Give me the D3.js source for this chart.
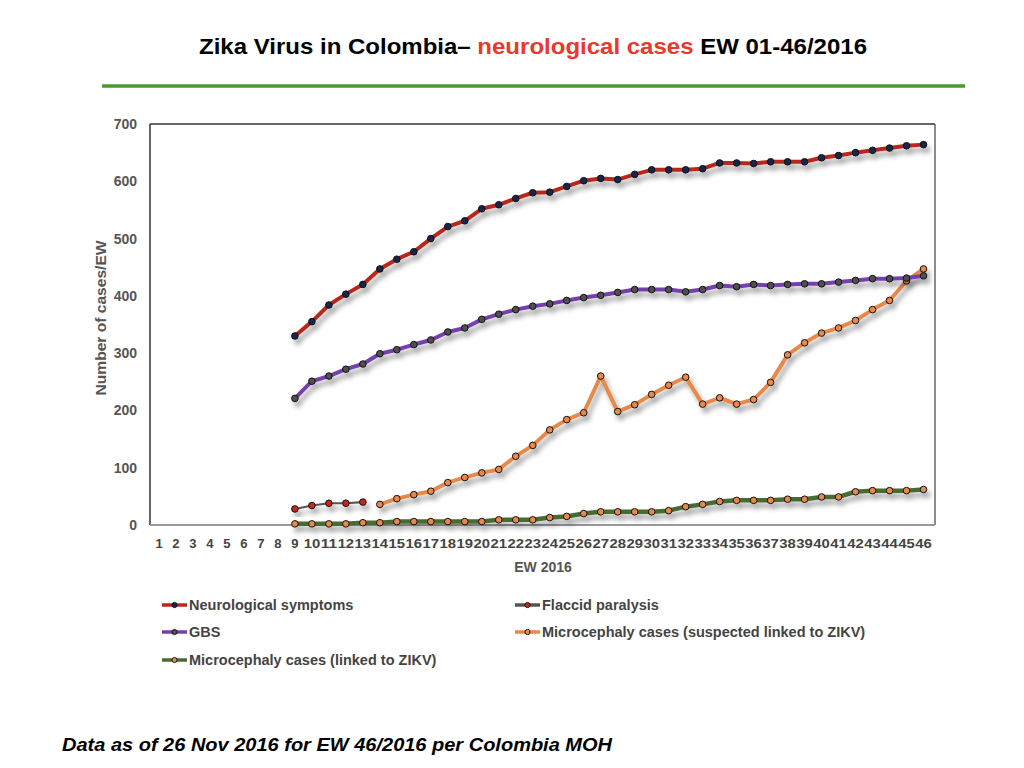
<!DOCTYPE html>
<html>
<head>
<meta charset="utf-8">
<script src="https://cdn.jsdelivr.net/npm/d3@7"></script>
<style>
  html, body { margin: 0; padding: 0; background: #fff; }
  svg { display: block; }
</style>
</head>
<body>
<script>
// ---- data ----
const weeks = d3.range(1, 47);
const yTicks = [0, 100, 200, 300, 400, 500, 600, 700];

// values per week, index 0 = EW 1 ; null = no value
const neurological = [null,null,null,null,null,null,null,null,
  330,355,384,403,420,447,464,477,500,521,531,552,559,570,580,581,591,601,605,
  603,612,620,620,620,622,632,632,631,634,634,634,641,645,650,654,658,662,664];
const gbs = [null,null,null,null,null,null,null,null,
  221,251,260,272,281,299,306,315,323,337,344,359,368,376,382,386,392,397,401,
  406,411,411,411,407,411,418,416,420,418,420,421,421,424,427,430,430,431,435];
const flaccid = [null,null,null,null,null,null,null,null,
  28,34,38,38,40,null,null,null,null,null,null,null,null,null,null,null,null,null,null,
  null,null,null,null,null,null,null,null,null,null,null,null,null,null,null,null,null,null,null];
const microSuspected = [null,null,null,null,null,null,null,null,
  null,null,null,null,null,36,46,53,59,74,83,91,97,120,139,166,184,196,260,
  198,210,228,244,258,211,222,211,219,249,297,318,335,344,357,376,392,426,447];
const microLinked = [null,null,null,null,null,null,null,null,
  2,2,2,2,4,4,6,6,6,6,6,6,9,9,9,13,15,20,23,
  23,23,23,25,32,36,41,43,43,43,45,45,49,49,58,60,60,60,62];

const seriesNames = ["Neurological symptoms", "Flaccid paralysis", "GBS",
  "Microcephaly cases (suspected linked to ZIKV)", "Microcephaly cases (linked to ZIKV)"];

// ---- styles ----
const styles = {
  "Neurological symptoms": {values: neurological, line: "#b8281c", width: 4, fill: "#13254f"},
  "Flaccid paralysis": {values: flaccid, line: "#555555", width: 2.2, fill: "#c8261c"},
  "GBS": {values: gbs, line: "#7440ae", width: 4, fill: "#505050"},
  "Microcephaly cases (suspected linked to ZIKV)": {values: microSuspected, line: "#e8894a", width: 4, fill: "#e8894a"},
  "Microcephaly cases (linked to ZIKV)": {values: microLinked, line: "#4a6a32", width: 4.5, fill: "#e8894a"}
};

const FONT = "'Liberation Sans', Arial, sans-serif";
const W = 1024, H = 768;
const svg = d3.select("body").append("svg").attr("width", W).attr("height", H);

const defs = svg.append("defs");
const f = defs.append("filter").attr("id", "shadow")
  .attr("x", "-10%").attr("y", "-10%").attr("width", "130%").attr("height", "140%");
f.append("feDropShadow").attr("dx", 3).attr("dy", 5).attr("stdDeviation", 2.5)
  .attr("flood-color", "#000").attr("flood-opacity", 0.35);

// title
const title = svg.append("text").attr("x", 199).attr("y", 54)
  .attr("textLength", 668).attr("lengthAdjust", "spacingAndGlyphs")
  .style("font-family", FONT)
  .style("font-weight", "bold").style("font-size", "22px").attr("fill", "#000");
title.append("tspan").text("Zika Virus in Colombia\u2013  ");
title.append("tspan").attr("fill", "#e8392a").text("neurological cases");
title.append("tspan").text(" EW 01-46/2016");

svg.append("line").attr("x1", 102).attr("x2", 965).attr("y1", 86).attr("y2", 86)
  .attr("stroke", "#4a9a2e").attr("stroke-width", 3.5);

// scales
const x = d3.scaleBand().domain(weeks).range([150.5, 932]).padding(0);
const cx = w => x(w) + x.bandwidth() / 2;
const y = d3.scaleLinear().domain([0, 700]).range([525, 124]);

// frame
const L = 150, R = 935, T = 124, B = 525;
svg.append("line").attr("x1", L).attr("x2", R).attr("y1", T).attr("y2", T).attr("stroke", "#333").attr("stroke-width", 1.5);
svg.append("line").attr("x1", R).attr("x2", R).attr("y1", T).attr("y2", B).attr("stroke", "#666").attr("stroke-width", 1.5);
svg.append("line").attr("x1", L).attr("x2", L).attr("y1", T).attr("y2", B).attr("stroke", "#333").attr("stroke-width", 1.5);

// y axis labels
const yAxis = d3.axisLeft(y).tickValues(yTicks).tickSize(0).tickPadding(13);
const gy = svg.append("g").attr("transform", `translate(${L},0)`).call(yAxis);
gy.select(".domain").remove();
gy.selectAll("text").style("font-family", FONT)
  .style("font-weight", "bold").style("font-size", "14px").attr("fill", "#555");

// x axis labels
const xAxis = d3.axisBottom(x).tickSize(0).tickPadding(14);
const gx = svg.append("g").attr("transform", `translate(0,${B})`).call(xAxis);
gx.select(".domain").remove();
gx.selectAll("text").style("font-family", FONT)
  .style("font-weight", "bold").style("font-size", "13px").attr("fill", "#444")
  .attr("textLength", d => d >= 10 ? 16.5 : null).attr("lengthAdjust", "spacingAndGlyphs");

svg.append("line").attr("x1", L).attr("x2", R).attr("y1", B).attr("y2", B).attr("stroke", "#999").attr("stroke-width", 2);

// axis titles
svg.append("text").attr("transform", `translate(106,318) rotate(-90)`)
  .attr("text-anchor", "middle")
  .attr("textLength", 155).attr("lengthAdjust", "spacingAndGlyphs")
  .style("font-family", FONT)
  .style("font-weight", "bold").style("font-size", "14px").attr("fill", "#555")
  .text("Number of cases/EW");
svg.append("text").attr("x", 543).attr("y", 572).attr("text-anchor", "middle")
  .style("font-family", FONT)
  .style("font-weight", "bold").style("font-size", "14px").attr("fill", "#555")
  .text("EW 2016");

// series
const line = d3.line().defined(d => d.v != null).x(d => cx(d.w)).y(d => y(d.v));
const drawOrder = ["Microcephaly cases (linked to ZIKV)", "Microcephaly cases (suspected linked to ZIKV)",
  "Flaccid paralysis", "GBS", "Neurological symptoms"];
drawOrder.forEach(name => {
  const s = styles[name];
  const data = weeks.map((w, i) => ({w, v: s.values[i]}));
  const g = svg.append("g").attr("filter", "url(#shadow)");
  g.append("path").datum(data).attr("d", line).attr("fill", "none")
    .attr("stroke", s.line).attr("stroke-width", s.width).attr("stroke-linejoin", "round");
  g.selectAll("circle").data(data.filter(d => d.v != null)).enter().append("circle")
    .attr("cx", d => cx(d.w)).attr("cy", d => y(d.v)).attr("r", 3.3)
    .attr("fill", s.fill).attr("stroke", "#111").attr("stroke-width", 1);
});

// legend
const legendPos = [
  {name: "Neurological symptoms", x: 162, y: 605},
  {name: "Flaccid paralysis", x: 515, y: 605},
  {name: "GBS", x: 162, y: 632},
  {name: "Microcephaly cases (suspected linked to ZIKV)", x: 515, y: 632},
  {name: "Microcephaly cases (linked to ZIKV)", x: 162, y: 660}
];
legendPos.forEach(p => {
  const s = styles[p.name];
  const g = svg.append("g").attr("transform", `translate(${p.x},${p.y})`);
  g.append("line").attr("x1", 0).attr("x2", 25).attr("y1", 0).attr("y2", 0)
    .attr("stroke", s.line).attr("stroke-width", 3.5);
  g.append("circle").attr("cx", 12.5).attr("cy", 0).attr("r", 2.6)
    .attr("fill", s.fill).attr("stroke", "#111").attr("stroke-width", 0.9);
  g.append("text").attr("x", 27).attr("y", 5)
    .style("font-family", FONT)
    .style("font-weight", "bold").style("font-size", "14.5px").attr("fill", "#444")
    .text(p.name);
});

// footer
svg.append("text").attr("x", 62).attr("y", 751)
  .attr("textLength", 550).attr("lengthAdjust", "spacingAndGlyphs")
  .style("font-family", FONT)
  .style("font-weight", "bold").style("font-style", "italic").style("font-size", "19px")
  .attr("fill", "#000")
  .text("Data as of 26 Nov 2016 for EW 46/2016 per Colombia MOH");
</script>
</body>
</html>
